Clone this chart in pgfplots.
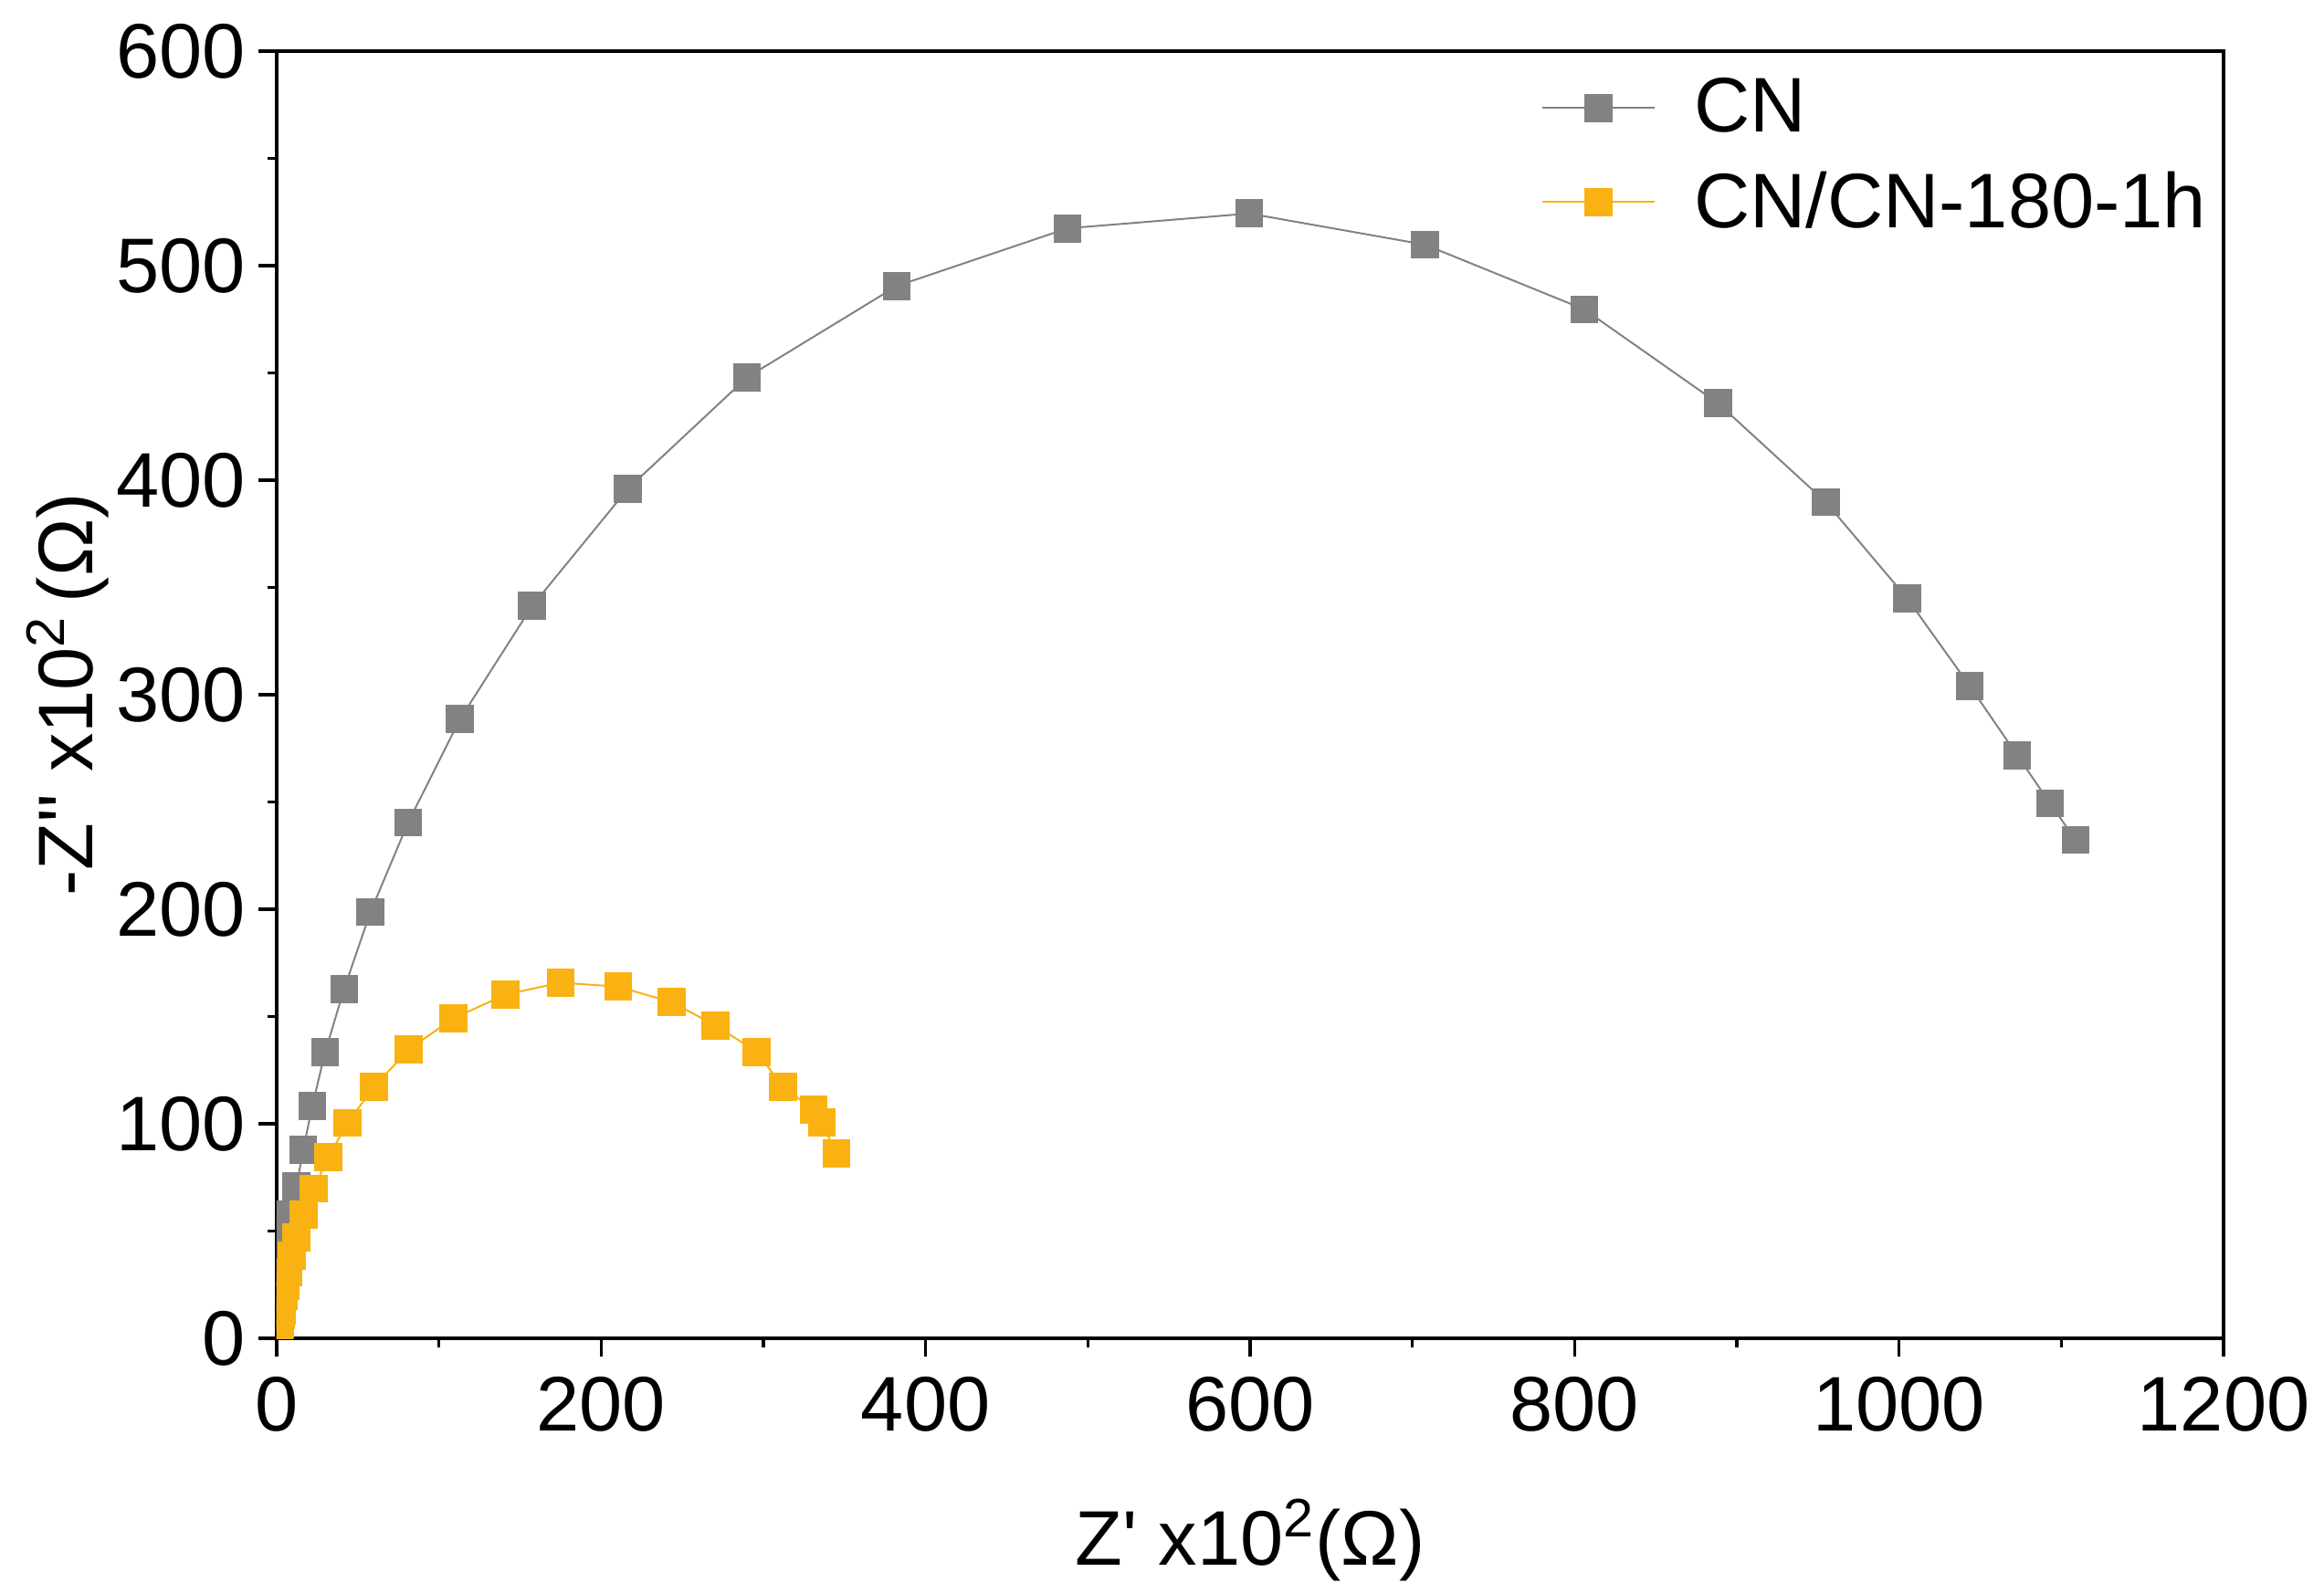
\documentclass[border=0pt]{standalone}
\usepackage{fontspec}
\setmainfont{Liberation Sans}[Ligatures=TeXOff]
\usepackage{pgfplots}
\pgfplotsset{compat=1.18}
\definecolor{cngray}{RGB}{130,130,130}
\definecolor{cnorange}{RGB}{249,178,17}
\newcommand{\lblfont}{\fontsize{21.2}{25.4}\selectfont}
\begin{document}
\begin{tikzpicture}
\useasboundingbox (-75.75pt,-69.5pt) rectangle (560.5pt,366.5pt);
\begin{axis}[
  scale only axis, width=533pt, height=352.5pt,
  xmin=0, xmax=1200, ymin=0, ymax=600,
  xtick={0,200,...,1200}, ytick={0,100,...,600},
  minor x tick num=1, minor y tick num=1,
  tick align=outside, tick pos=left,
  major tick length=5pt, minor tick length=2.5pt,
  axis line style={line width=0.83pt},
  every tick/.style={black, line width=0.83pt},
  /pgf/number format/assume math mode=true,
  /pgf/number format/1000 sep={},
  tick label style={font=\lblfont},
  xticklabel style={yshift=-2pt},
  clip marker paths=true,
  xlabel={Z' x10\textsuperscript{2}(Ω)},
  ylabel={-Z'' x10\textsuperscript{2}\hspace{3.5pt}(Ω)},
  every axis x label/.style={at={(axis description cs:0.5,-0.1759)}, anchor=base, font=\lblfont},
  every axis y label/.style={at={(axis description cs:-0.0947,0.5)}, rotate=90, anchor=base, font=\lblfont},
  legend style={at={(axis description cs:0.6497,0.979)}, anchor=north west, draw=none, fill=none,
    inner sep=0pt, outer sep=0pt, font=\lblfont, row sep=9.2pt, column sep=10.5pt,
    nodes={inner sep=0pt}},
  legend cell align=left,
  legend image code/.code={\draw[mark repeat=2,mark phase=2,#1] plot coordinates {(0pt,0pt) (15.375pt,0pt) (30.75pt,0pt)};},
]
\addplot[color=cngray, line width=0.5pt, mark=square*, mark size=3.6pt, mark options={solid, fill=cngray, draw=cngray}]
coordinates {
(0.5,3) (1,10) (1.5,20) (2,30) (2.5,40) (3,50.8) (4.5,57.6) (12.3,71) (16.3,87.8) (22,108.3)
(29.8,133.3) (41.6,162.9) (57.8,198.7) (81,240.4) (113,288.6) (157.5,341.4) (216.6,396.1)
(289.9,447.9) (382.2,490.5) (487.4,517.4) (599.4,524.3) (707.7,509.8) (806,479.6) (888.5,435.8)
(954.8,389.8) (1004.9,345) (1043.5,304.1) (1072.8,271.8) (1093,249.4) (1108.8,232.3)
};
\addlegendentry{CN}
\addplot[color=cnorange, line width=0.5pt, mark=square*, mark size=3.6pt, mark options={solid, fill=cnorange, draw=cnorange}]
coordinates {
(1.5,2.5) (2.1,6.7) (2.7,10.7) (3.2,13.1) (4.4,19.9) (5.5,24.6) (7.2,30.6) (9.3,38.4) (12.3,46.9)
(16.8,57.5) (23,69.8) (31.8,84.4) (43.6,100.4) (60,117.2) (81.5,134.7) (109,149.2) (141,160.2)
(175,165.8) (210.5,163.9) (243.5,156.7) (270.5,145.8) (296,133.5) (312,117.2) (331,106.5)
(336,100.6) (345,86.2)
};
\addlegendentry{CN/CN-180-1h}
\end{axis}
\end{tikzpicture}
\end{document}
